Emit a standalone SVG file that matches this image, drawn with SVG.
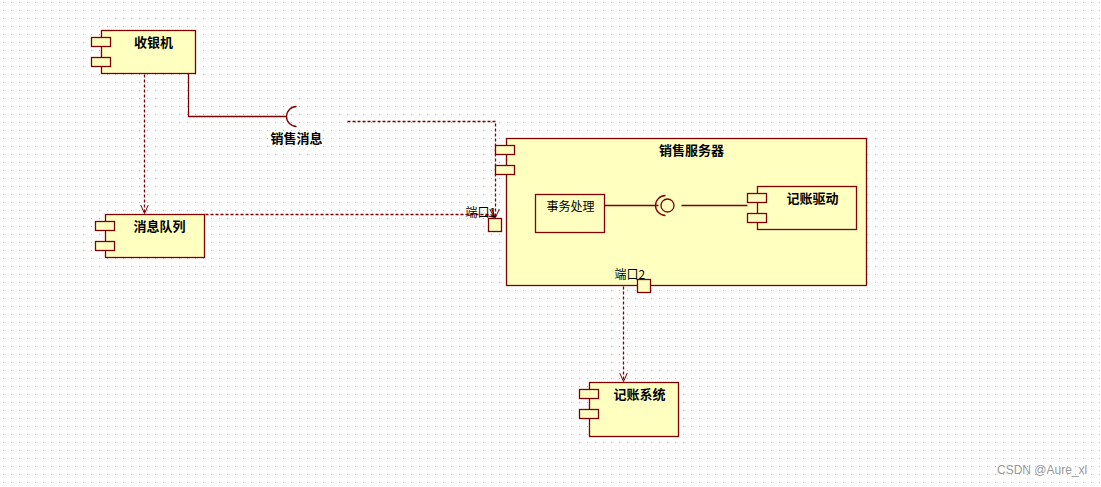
<svg xmlns="http://www.w3.org/2000/svg" width="1101" height="487" viewBox="0 0 1101 487">
<defs>
<pattern id="grid" width="8" height="8" patternUnits="userSpaceOnUse">
<rect x="3" y="2" width="1" height="1" fill="#b4b4b4"/>
</pattern>
<marker id="open" viewBox="0 0 10 10" refX="9" refY="5" markerWidth="10" markerHeight="10" markerUnits="userSpaceOnUse" orient="auto">
<path d="M0,1 L9,5 L0,9" fill="none" stroke="#800000" stroke-width="1"/>
</marker>
<style>
.box{fill:#ffffc0;stroke:#800000;stroke-width:1.3}
.tab{fill:#ffffc0;stroke:#800000;stroke-width:1.3}
.line{fill:none;stroke:#800000;stroke-width:1.3}
.dash{fill:none;stroke:#800000;stroke-width:1.3;stroke-dasharray:3,2}
.title{font-family:"Noto Sans CJK SC","Liberation Sans",sans-serif;font-size:13px;font-weight:bold;fill:#000;text-anchor:middle}
.lbl{font-family:"Noto Sans CJK SC","Liberation Sans",sans-serif;font-size:12px;fill:#000}
</style>
</defs>
<rect width="1101" height="487" fill="#fff"/>
<rect width="1101" height="487" fill="url(#grid)"/>

<g transform="translate(0.5,0.5)">
<g id="connectors">
<polyline class="line" points="188,73 188,116 286,116"/>
<path class="line" d="M296,106 A10,10 0 0 0 296,126"/>
<line class="dash" x1="144" y1="74" x2="144" y2="213" marker-end="url(#open)"/>
<polyline class="dash" points="205,214 490,214 494,217" marker-end="url(#open)"/>
<polyline class="dash" points="347,121 495,121 495,217" marker-end="url(#open)"/>
<line class="dash" x1="623" y1="286" x2="623" y2="381" marker-end="url(#open)"/>
</g>

<g id="cashier">
<rect class="box" x="101" y="30" width="94" height="43"/>
<rect class="tab" x="91" y="37" width="19" height="9"/>
<rect class="tab" x="91" y="57" width="19" height="9"/>
<text class="title" x="153" y="46">收银机</text>
</g>

<g id="sales-msg">
<text class="title" x="296" y="142">销售消息</text>
</g>

<g id="queue">
<rect class="box" x="105" y="214" width="99" height="43"/>
<rect class="tab" x="95" y="221" width="19" height="9"/>
<rect class="tab" x="95" y="241" width="19" height="9"/>
<text class="title" x="159" y="230">消息队列</text>
</g>

<g id="server">
<rect class="box" x="506" y="138" width="360" height="147"/>
<rect class="tab" x="495" y="145" width="19" height="9"/>
<rect class="tab" x="495" y="165" width="19" height="9"/>
<text class="title" x="691" y="154">销售服务器</text>
</g>

<g id="port1">
<rect class="box" x="488" y="218" width="13" height="13"/>
<text class="lbl" x="465" y="216">端口1</text>
</g>

<g id="port2">
<rect class="box" x="637" y="279" width="13" height="13"/>
<text class="lbl" x="614" y="278">端口2</text>
</g>

<g id="transaction">
<rect class="box" x="535" y="194" width="69" height="38"/>
<text class="lbl" x="570" y="210" text-anchor="middle">事务处理</text>
</g>

<g id="interface">
<line class="line" x1="604" y1="205" x2="658" y2="205"/>
<circle class="line" cx="667" cy="205" r="6.5"/>
<path class="line" d="M665,195 A10,10 0 0 0 665,215"/>
<line class="line" x1="681" y1="205" x2="747" y2="205"/>
</g>

<g id="ledger-driver">
<rect class="box" x="757" y="186" width="99" height="43"/>
<rect class="tab" x="747" y="193" width="19" height="9"/>
<rect class="tab" x="747" y="213" width="19" height="9"/>
<text class="title" x="812" y="202">记账驱动</text>
</g>

<g id="ledger-system">
<rect class="box" x="589" y="382" width="89" height="54"/>
<rect class="tab" x="579" y="389" width="19" height="9"/>
<rect class="tab" x="579" y="409" width="19" height="9"/>
<text class="title" x="639" y="398">记账系统</text>
</g>
</g>

<text x="997" y="474" font-family="Liberation Sans, sans-serif" font-size="12" fill="#999">CSDN @Aure_xl</text>
</svg>
